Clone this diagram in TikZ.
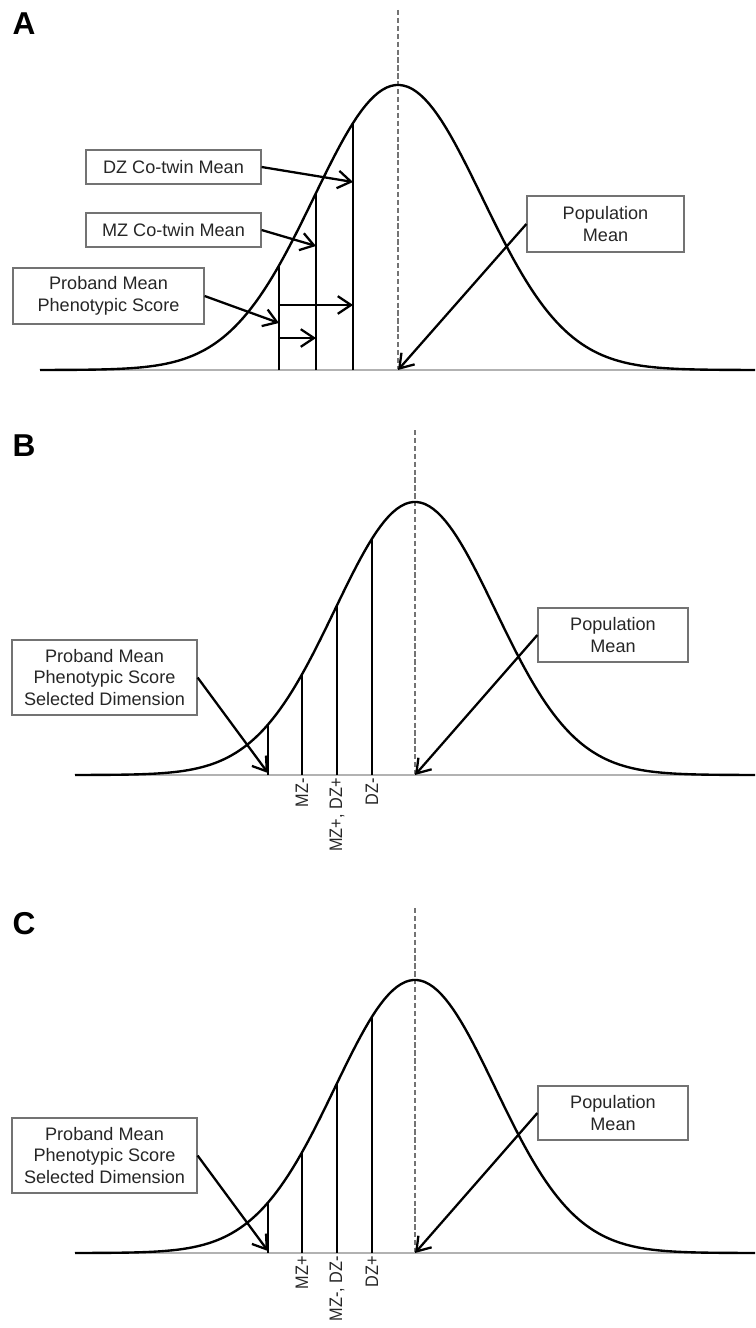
\documentclass[tikz,border=0pt]{standalone}
\usepackage{fontspec}
\setmainfont{Liberation Sans}
\newfontfamily\stretta[FakeStretch=0.9]{Liberation Sans}
\usetikzlibrary{arrows.meta}

\begin{document}
\begin{tikzpicture}[x=0.02cm, y=-0.02cm, >={Straight Barb[length=7.5pt, width=10pt]},
    curva/.style={black, line width=1.35pt},
    asse/.style={black!30, line width=1.1pt},
    media/.style={black!55, line width=0.7pt, dash pattern=on 3pt off 1.5pt},
    punteggio/.style={black, line width=1.3pt},
    freccia/.style={->, black, line width=1.3pt},
    riquadro/.style={draw=black!55, line width=0.7pt, align=center, inner sep=1pt,
      text=black!85, font=\fontsize{10.3}{12.4}\selectfont},
    etichetta/.style={rotate=90, anchor=east, inner sep=0pt, text=black!85,
      font=\stretta\fontsize{10.3}{12}\selectfont},
    pannello/.style={font=\fontsize{18}{20}\selectfont\bfseries},
    ]
    \useasboundingbox (0,0) rectangle (755,1328);
    % ── Gaussiana: media \xm, sigma \sg, altezza \hq, quota base \yb; inizio in #1 ──
    \def\gaussiana#1{%
      \draw[asse] (#1,\yb) -- (755,\yb);
      \draw[curva] plot[domain=#1:755, samples=170] (\x, {\yb-\hq*exp(-0.5*((\x-\xm)/\sg)^2)});}
    % ── Segmento verticale dalla base fino alla curva in #1 ──
    \def\linea#1{%
      \draw[punteggio] (#1,\yb) -- (#1,{\yb-\hq*exp(-0.5*((#1-\xm)/\sg)^2)});}
    % ── Pannelli B e C (stessa geometria, etichette diverse) ──
    \def\pannelloBC#1#2#3#4{%
      \def\xm{415}\def\sg{80}\def\hq{273}\def\yb{775}
      \node[pannello] (l#1) at (24,446) {#1};
      \draw[media] (\xm,430) -- (\xm,\yb);
      \gaussiana{75}
      \linea{268}\linea{302}\linea{337}\linea{372}
      \node[etichetta] (a#1) at (302,778) {#2};
      \node[etichetta] (b#1) at (337,778) {#3};
      \node[etichetta] (c#1) at (372,778) {#4};
      \node[riquadro, minimum width=3.7cm, minimum height=1.5cm] (pb#1) at (104.5,677.5)
        {Proband Mean\\Phenotypic Score\\Selected Dimension};
      \node[riquadro, minimum width=3cm, minimum height=1.08cm] (pop#1) at (613,635)
        {Population\\Mean};
      \coordinate (sel#1) at (268,773);
      \coordinate (mu#1) at (\xm,\yb);
      \draw[freccia] (pb#1.east) -- (sel#1);
      \draw[freccia] (pop#1.west) -- (mu#1);}

    % ===================== (A) medie dei co-gemelli =====================
    \begin{scope}
      \def\xm{398}\def\sg{84}\def\hq{285}\def\yb{370}
      \node[pannello] (lA) at (24,24) {A};
      \draw[media] (\xm,10) -- (\xm,\yb);
      \gaussiana{40}
      \linea{279}\linea{316}\linea{353}
      \node[riquadro, minimum width=3.5cm, minimum height=0.68cm] (dz) at (173.5,167) {DZ Co-twin Mean};
      \node[riquadro, minimum width=3.5cm, minimum height=0.68cm] (mz) at (173.5,230) {MZ Co-twin Mean};
      \node[riquadro, minimum width=3.82cm, minimum height=1.12cm] (pb) at (108.5,296)
        {Proband Mean\\Phenotypic Score};
      \node[riquadro, minimum width=3.14cm, minimum height=1.12cm] (pop) at (605.5,224)
        {Population\\Mean};
      \coordinate (dzA) at (353,182);
      \coordinate (mzA) at (316,246);
      \coordinate (pbA) at (279,323);
      \coordinate (pbD) at (279,305); \coordinate (dzP) at (353,305);
      \coordinate (pbM) at (279,338); \coordinate (mzP) at (316,338);
      \coordinate (muA) at (\xm,\yb);
      \draw[freccia] (dz.east) -- (dzA);
      \draw[freccia] (mz.east) -- (mzA);
      \draw[freccia] (pb.east) -- (pbA);
      \draw[freccia] (pbD) -- (dzP);
      \draw[freccia] (pbM) -- (mzP);
      \draw[freccia] (pop.west) -- (muA);
    \end{scope}

    % ===================== (B) dimensione selezionata =====================
    \begin{scope}
      \pannelloBC{B}{MZ-}{MZ+, DZ+}{DZ-}
    \end{scope}

    % ===================== (C) dimensione selezionata =====================
    \begin{scope}[shift={(0,478)}]
      \pannelloBC{C}{MZ+}{MZ-, DZ-}{DZ+}
    \end{scope}

\end{tikzpicture}
\end{document}
